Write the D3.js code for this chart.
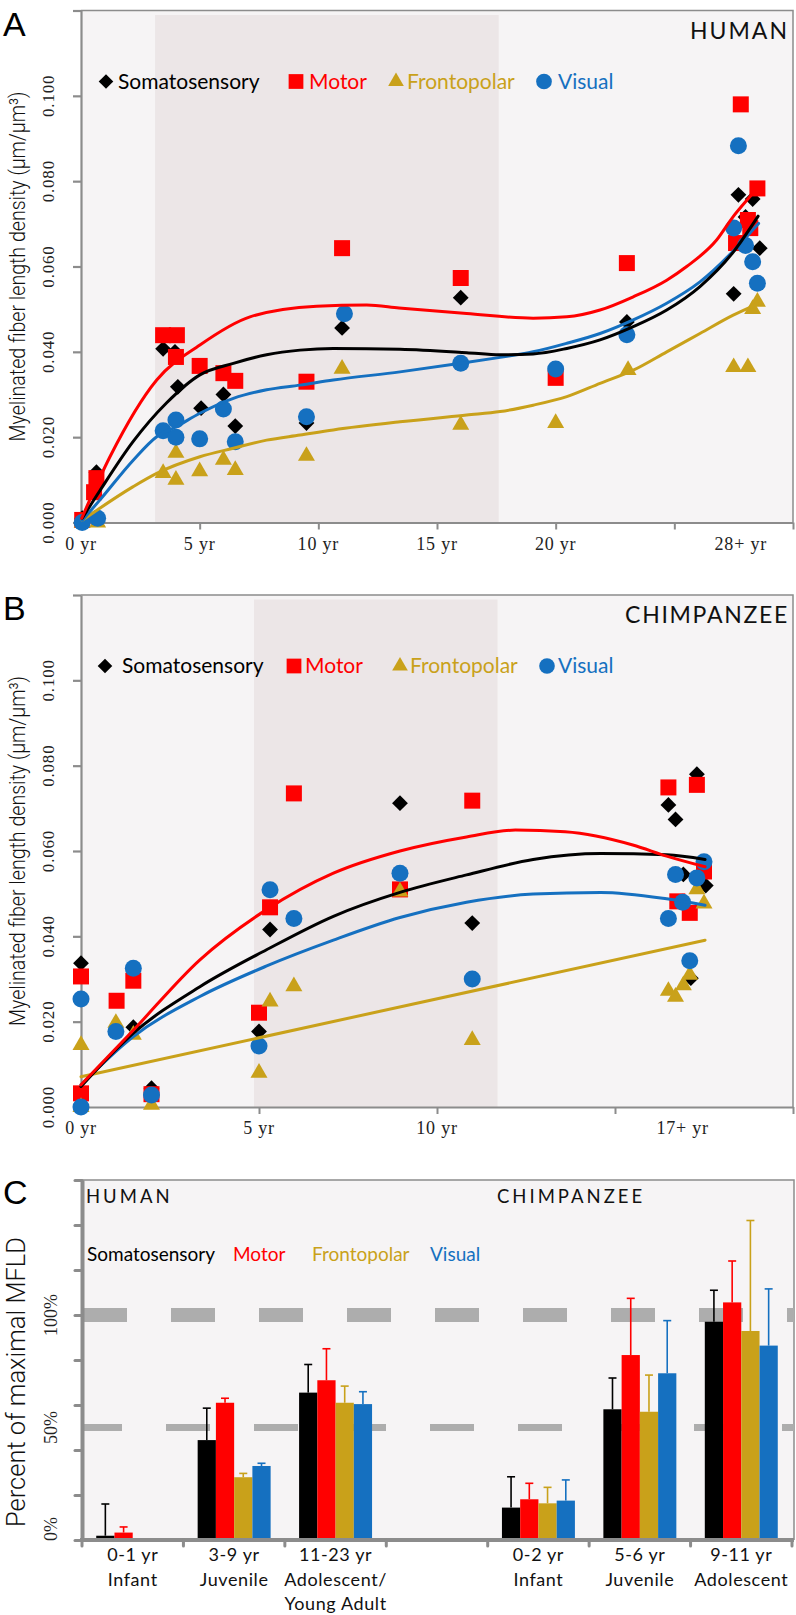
<!DOCTYPE html>
<html><head><meta charset="utf-8">
<script src="https://cdn.jsdelivr.net/npm/d3@7"></script>
<style>body{margin:0;background:#fff}svg{display:block}</style>
</head><body><svg id="c" width="796" height="1615"></svg>
<script>
// ---------------- DATA ----------------
const regions = ["Somatosensory","Motor","Frontopolar","Visual"];

// Panel A (human): [age in years, myelinated fiber length density]
const humanSoma = [[0.05,0.001],[0.65,0.0118],[3.46,0.0407],[3.96,0.040],[4.08,0.0318],[5.06,0.0268],[6.0,0.030],[6.5,0.0226],[9.5,0.0233],[11.0,0.0456],[16.0,0.0527],[23.0,0.047],[27.5,0.0536],[27.7,0.0768],[28.0,0.0716],[28.3,0.0758],[28.6,0.0643]];
const humanMotor = [[0.05,0.0006],[0.55,0.0071],[0.65,0.0104],[3.46,0.0439],[4.04,0.0439],[4.0,0.0388],[5.0,0.0367],[6.0,0.035],[6.5,0.0332],[9.5,0.033],[11.0,0.0643],[16.0,0.0573],[20.0,0.0339],[23.0,0.0608],[27.8,0.098],[28.5,0.0783],[28.1,0.0709],[28.2,0.069],[27.6,0.0655]];
const humanFront = [[0.05,0.0],[0.7,0.0],[3.46,0.0116],[4.0,0.0163],[4.0,0.010],[5.0,0.012],[6.0,0.0147],[6.5,0.0123],[9.5,0.0156],[11.0,0.036],[16.0,0.0229],[20.0,0.0233],[23.05,0.0357],[27.5,0.0364],[28.1,0.0364],[28.3,0.050],[28.5,0.0517]];
const humanVisual = [[0.05,0.0],[0.7,0.001],[3.46,0.0215],[4.0,0.024],[4.0,0.020],[5.0,0.0196],[6.0,0.0266],[6.5,0.0189],[9.5,0.0248],[11.1,0.0489],[16.0,0.0373],[20.0,0.036],[23.0,0.044],[27.7,0.0883],[27.5,0.069],[28.0,0.0649],[28.3,0.0611],[28.5,0.0561]];
// fitted trend lines
const humanSomaFit = [[0.05,0.001],[0.8,0.0075],[2.2,0.019],[3.6,0.028],[5.01,0.0346],[6.42,0.0373],[7.82,0.0393],[9.23,0.0404],[10.63,0.0408],[13.44,0.0406],[16.25,0.0398],[17.66,0.0393],[19.05,0.0395],[20.47,0.0408],[21.87,0.0428],[23.27,0.0459],[24.68,0.0498],[26.08,0.0553],[27.5,0.0635],[28.53,0.0718]];
const humanMotorFit = [[0.03,0.001],[1.22,0.0154],[3.19,0.0334],[5.01,0.0416],[7.12,0.0482],[9.93,0.0507],[12.04,0.051],[13.4,0.0503],[16.25,0.049],[19.05,0.0479],[20.47,0.0482],[21.87,0.0498],[23.27,0.0529],[24.68,0.0568],[25.52,0.060],[26.78,0.0662],[27.48,0.0717],[28.19,0.0764],[28.53,0.0786]];
const humanFrontFit = [[0.05,0.0005],[2.2,0.0084],[3.19,0.0115],[5.01,0.0154],[6.42,0.0174],[7.82,0.0193],[9.23,0.0205],[10.63,0.0217],[13.44,0.0236],[16.25,0.0252],[17.66,0.026],[19.05,0.0275],[20.47,0.0295],[21.87,0.0326],[23.27,0.0357],[24.68,0.040],[26.08,0.0443],[27.48,0.0486],[28.5,0.0512]];
const humanVisualFit = [[0.05,0.0005],[0.8,0.0053],[2.2,0.0146],[3.19,0.0201],[4.03,0.0225],[5.01,0.0256],[6.42,0.0291],[7.82,0.0311],[9.23,0.0322],[10.63,0.0334],[13.44,0.0353],[16.0,0.0373],[17.66,0.0387],[19.05,0.040],[20.47,0.042],[21.87,0.0443],[23.27,0.0475],[24.68,0.0514],[26.08,0.0564],[28.55,0.0701]];

// Panel B (chimpanzee)
const chimpSoma = [[0,0.0337],[0,0.002],[1.47,0.0187],[1.98,0.0044],[5.0,0.0177],[5.31,0.0416],[8.96,0.0712],[10.99,0.0431],[17.3,0.078],[16.5,0.0708],[16.7,0.0674],[16.92,0.0545],[17.55,0.0519],[17.13,0.0302]];
const chimpMotor = [[0,0.0306],[0,0.0032],[1.0,0.0249],[1.47,0.0296],[1.98,0.003],[5.0,0.0221],[5.31,0.0468],[5.98,0.0735],[8.96,0.051],[10.99,0.0718],[16.5,0.0749],[17.3,0.0755],[17.5,0.0552],[16.75,0.0482],[17.1,0.0455]];
const chimpFront = [[0,0.0145],[0,0.0],[0.98,0.0197],[1.47,0.0169],[1.98,0.0005],[5.0,0.008],[5.31,0.0247],[5.98,0.0283],[8.96,0.0505],[10.99,0.0157],[17.3,0.051],[17.5,0.0477],[17.1,0.031],[16.92,0.0285],[16.5,0.0272],[16.7,0.0258]];
const chimpVisual = [[0,0.0253],[0,0.0],[0.98,0.0177],[1.47,0.0325],[1.98,0.0028],[5.0,0.0143],[5.31,0.0509],[5.98,0.0442],[8.96,0.0548],[10.99,0.030],[16.7,0.0545],[17.3,0.0537],[17.5,0.0575],[16.9,0.048],[16.5,0.0442],[17.1,0.0343]];
const chimpSomaFit = [[0,0.0048],[1.47,0.0173],[3.34,0.0282],[5.2,0.0368],[7.09,0.0447],[8.96,0.0503],[10.83,0.0544],[12.7,0.058],[14.6,0.0594],[16.45,0.0591],[17.53,0.058]];
const chimpMotorFit = [[0,0.0052],[1.47,0.018],[3.34,0.0345],[5.2,0.0462],[7.09,0.0548],[8.96,0.060],[10.83,0.0633],[12.2,0.0649],[13.6,0.0645],[15.5,0.0614],[16.45,0.0588],[17.53,0.0563]];
const chimpFrontFit = [[0,0.0071],[17.53,0.0391]];
const chimpVisualFit = [[0,0.0052],[1.47,0.0165],[3.34,0.0259],[5.2,0.033],[7.09,0.0391],[8.96,0.0444],[10.83,0.048],[12.7,0.0499],[14.6,0.0503],[16.45,0.0488],[17.53,0.0473]];

const yTickVals = [0,0.02,0.04,0.06,0.08,0.10,0.12];
const yTickLabels = ["0.000","0.020","0.040","0.060","0.080","0.100"];
const humanXTicks = [0,5,10,15,20,25,30];
const humanXLabels = ["0 yr","5 yr","10 yr","15 yr","20 yr","28+ yr"];
const humanXLabelAt = [0,5,10,15,20,27.8];
const chimpXTicks = [0,5,10,15,20];
const chimpXLabels = ["0 yr","5 yr","10 yr","17+ yr"];
const chimpXLabelAt = [0,5,10,16.9];
const humanJuvBand = [3.12,17.6];
const chimpJuvBand = [4.86,11.7];

// Panel C: percent of maximal MFLD (bar value, top of error bar)
const cAgeLabels = ["0-1 yr","3-9 yr","11-23 yr","","0-2 yr","5-6 yr","9-11 yr"];
const cStageLabels = [["Infant"],["Juvenile"],["Adolescent/","Young Adult"],[],["Infant"],["Juvenile"],["Adolescent"]];
const pctSoma   = [1.9, 44.4, 65.5, null, 14.4, 58.1, 97.0];
const pctMotor  = [3.3, 61.0, 71.0, null, 18.1, 82.2, 105.6];
const pctFront  = [0,   27.9, 61.0, null, 16.3, 57.0, 92.9];
const pctVisual = [0,   32.9, 60.4, null, 17.5, 74.1, 86.4];
const errSoma   = [16.0, 58.6, 78.0, null, 28.1, 72.0, 111.0];
const errMotor  = [5.8,  63.0, 85.0, null, 25.2, 107.4, 124.0];
const errFront  = [null, 29.6, 68.4, null, 23.4, 73.3, 142.0];
const errVisual = [null, 34.1, 65.9, null, 26.7, 97.5, 111.6];
const cTickVals = [0,20,40,60,80,100,120,140,160];
const cLabelVals = [0,50,100];
const cRefLines = [100,50];

// ---------------- STYLE ----------------
const COL = {Somatosensory:"#000000", Motor:"#ff0000", Frontopolar:"#c9a11a", Visual:"#1570c0"};
const AX = "#8c8c8c", PLOT_BG = "#f6f4f5", BAND_BG = "#ece6e7";
const SERIF = '"Liberation Serif","DejaVu Serif",serif';
const SANS = 'Lato,"Open Sans",sans-serif';
const HELV = 'Roboto,"Liberation Sans",Arial,sans-serif';
const svg = d3.select("#c");

const symType = {Somatosensory:d3.symbolSquare, Motor:d3.symbolSquare, Frontopolar:d3.symbolTriangle, Visual:d3.symbolCircle};
const symSize = {Somatosensory:125, Motor:256, Frontopolar:125, Visual:227};
const symRot = {Somatosensory:45, Motor:0, Frontopolar:0, Visual:0};

function scatterPanel(o){
  const g = svg.append("g");
  const x = d3.scaleLinear().domain([0,o.xMax]).range([81,793]);
  const y = d3.scaleLinear().domain([0,0.12]).range([o.bottom,o.top]);
  g.append("rect").attr("x",x(0)).attr("y",y(0.12)).attr("width",x(o.xMax)-x(0)).attr("height",y(0)-y(0.12)).attr("fill",PLOT_BG);
  g.append("rect").attr("x",x(o.band[0])).attr("y",y(0.12)+4.5).attr("width",x(o.band[1])-x(o.band[0])).attr("height",y(0)-y(0.12)-4.5).attr("fill",BAND_BG);
  g.append("path").attr("d",`M${x(0)},${y(0.12)}H${x(o.xMax)}V${y(0)}`).attr("fill","none").attr("stroke",AX).attr("stroke-width",1.5);
  const ya = g.append("g").attr("transform",`translate(${x(0)},0)`)
    .call(d3.axisLeft(y).tickValues(yTickVals).tickSize(8).tickSizeOuter(0).tickFormat(""));
  ya.selectAll("path,line").attr("stroke",AX).attr("stroke-width",2.2);
  const xa = g.append("g").attr("transform",`translate(0,${y(0)})`)
    .call(d3.axisBottom(x).tickValues(o.xTicks).tickSize(7).tickSizeOuter(0).tickFormat(""));
  xa.selectAll("path,line").attr("stroke",AX).attr("stroke-width",2);
  g.selectAll(".yl").data(yTickLabels).join("text")
    .attr("transform",(d,i)=>`translate(54,${y(yTickVals[i])}) rotate(-90)`)
    .attr("text-anchor","middle").attr("font-family",SERIF).attr("font-size",17).attr("letter-spacing",0.8)
    .attr("fill","#222").text(d=>d);
  g.selectAll(".xl").data(o.xLabels).join("text")
    .attr("x",(d,i)=>x(o.xLabelAt[i])).attr("y",y(0)+27)
    .attr("text-anchor","middle").attr("font-family",SERIF).attr("font-size",18).attr("letter-spacing",0.8)
    .attr("fill","#222").text(d=>d);
  // axis title
  g.append("text").attr("transform",`translate(25,${(y(0)+y(0.12))/2}) rotate(-90)`)
    .attr("text-anchor","middle").attr("font-family",HELV).attr("font-size",22).attr("font-weight",300)
    .attr("textLength",350).attr("lengthAdjust","spacingAndGlyphs").attr("fill","#111")
    .text("Myelinated fiber length density (\u03bcm/\u03bcm\u00b3)");
  // points
  regions.forEach((r,ri)=>{
    g.append("g").selectAll("path").data(o.points[ri]).join("path")
      .attr("d",d3.symbol().type(symType[r]).size(symSize[r]))
      .attr("transform",d=>`translate(${x(d[0])},${y(d[1])}) rotate(${symRot[r]})`)
      .attr("fill",COL[r]);
  });
  // trend lines
  const line = d3.line().x(d=>x(d[0])).y(d=>y(d[1])).curve(d3.curveMonotoneX);
  [2,3,0,1].forEach(ri=>{
    g.append("path").attr("d",line(o.fits[ri])).attr("fill","none")
      .attr("stroke",COL[regions[ri]]).attr("stroke-width",3).attr("stroke-linecap","round");
  });
  // legend
  const ly = y(0.12)+71;
  regions.forEach((r,ri)=>{
    const [sx,tx] = o.legend[ri];
    g.append("path").attr("d",d3.symbol().type(symType[r]).size(symSize[r]*0.85))
      .attr("transform",`translate(${sx},${ly}) rotate(${symRot[r]})`).attr("fill",COL[r]);
    g.append("text").attr("x",tx).attr("y",ly+7).attr("font-family",SANS).attr("font-size",21)
      .attr("fill",COL[r]).text(r);
  });
  g.append("text").attr("x",789).attr("y",y(0.12)+28).attr("text-anchor","end")
    .attr("font-family",SANS).attr("font-size",23).attr("letter-spacing",o.titleSpacing).attr("fill","#111").text(o.title);
  g.append("text").attr("x",3).attr("y",y(0.12)+25).attr("font-family",'"Liberation Sans",Arial,sans-serif').attr("font-size",34).attr("fill","#000").text(o.letter);
}

scatterPanel({xMax:30, top:10.5, bottom:522.5, band:humanJuvBand, xTicks:humanXTicks, xLabels:humanXLabels, xLabelAt:humanXLabelAt,
  points:[humanSoma,humanMotor,humanFront,humanVisual], fits:[humanSomaFit,humanMotorFit,humanFrontFit,humanVisualFit],
  legend:[[106,118],[296,309],[396,407],[544,558]], title:"HUMAN", titleSpacing:2, letter:"A"});
scatterPanel({xMax:20, top:595, bottom:1107, band:chimpJuvBand, xTicks:chimpXTicks, xLabels:chimpXLabels, xLabelAt:chimpXLabelAt,
  points:[chimpSoma,chimpMotor,chimpFront,chimpVisual], fits:[chimpSomaFit,chimpMotorFit,chimpFrontFit,chimpVisualFit],
  legend:[[105,122],[294,305],[400,410],[547,558]], title:"CHIMPANZEE", titleSpacing:1.7, letter:"B"});

// ---------------- Panel C ----------------
(function(){
  const g = svg.append("g");
  const x0 = d3.scaleBand().domain(d3.range(cAgeLabels.length)).range([82,792]);
  const x1 = d3.scaleBand().domain(regions).range([0,x0.bandwidth()]).paddingInner(0).paddingOuter(0.78);
  const y = d3.scaleLinear().domain([0,160]).range([1540,1180]);
  g.append("rect").attr("x",82).attr("y",y(160)).attr("width",712).attr("height",y(0)-y(160)).attr("fill",PLOT_BG);
  g.append("path").attr("d",`M82,${y(160)}H794V${y(0)}`).attr("fill","none").attr("stroke",AX).attr("stroke-width",1.5);
  // dashed reference lines
  g.selectAll(".ref").data(cRefLines).join("line")
    .attr("x1",(d,i)=>i===0?83:82).attr("x2",794).attr("y1",d=>y(d)).attr("y2",d=>y(d))
    .attr("stroke","#adadad").attr("stroke-width",(d,i)=>i===0?14:7)
    .attr("stroke-dasharray","44,44").attr("stroke-dashoffset",(d,i)=>i===0?0:4);
  const vals = [pctSoma,pctMotor,pctFront,pctVisual];
  const errs = [errSoma,errMotor,errFront,errVisual];
  regions.forEach((r,ri)=>{
    const data = cAgeLabels.map((c,ci)=>({ci,v:vals[ri][ci],e:errs[ri][ci]})).filter(d=>d.v!=null && d.v>0);
    const bx = d=>x0(d.ci)+x1(r);
    g.append("g").selectAll("rect").data(data).join("rect")
      .attr("x",bx).attr("y",d=>y(d.v)).attr("width",x1.bandwidth()).attr("height",d=>y(0)-y(d.v)).attr("fill",COL[r]);
    const eg = g.append("g").attr("stroke",COL[r]).attr("stroke-width",1.6);
    const ed = data.filter(d=>d.e!=null);
    eg.selectAll(".v").data(ed).join("line")
      .attr("x1",d=>bx(d)+x1.bandwidth()/2).attr("x2",d=>bx(d)+x1.bandwidth()/2)
      .attr("y1",d=>y(d.v)).attr("y2",d=>y(d.e));
    eg.selectAll(".h").data(ed).join("line")
      .attr("x1",d=>bx(d)+x1.bandwidth()/2-4).attr("x2",d=>bx(d)+x1.bandwidth()/2+4)
      .attr("y1",d=>y(d.e)).attr("y2",d=>y(d.e));
  });
  // axes
  const ya = g.append("g").attr("transform","translate(82,0)")
    .call(d3.axisLeft(y).tickValues(cTickVals).tickSize(7).tickSizeOuter(0).tickFormat(""));
  ya.select("path").attr("stroke",AX).attr("stroke-width",4);
  ya.selectAll("line").attr("stroke",AX).attr("stroke-width",3).attr("stroke-linecap","round");
  const bounds = x0.domain().map(i=>x0(i)).concat([x0.range()[1]]);
  g.append("line").attr("x1",80).attr("x2",794).attr("y1",y(0)).attr("y2",y(0)).attr("stroke",AX).attr("stroke-width",4);
  g.selectAll(".xt").data(bounds).join("line").attr("x1",d=>d).attr("x2",d=>d).attr("y1",y(0)).attr("y2",y(0)+6)
    .attr("stroke",AX).attr("stroke-width",3).attr("stroke-linecap","round");
  g.selectAll(".yl").data(cLabelVals).join("text")
    .attr("transform",d=>`translate(57,${d===0?y(d)-11:y(d)}) rotate(-90)`).attr("text-anchor","middle")
    .attr("font-family",SERIF).attr("font-size",18).attr("fill","#222").text(d=>d+"%");
  // category labels
  cAgeLabels.forEach((c,ci)=>{
    const lines = c ? [c].concat(cStageLabels[ci]) : [];
    g.selectAll(null).data(lines).join("text")
      .attr("x",x0(ci)+x0.bandwidth()/2).attr("y",(d,i)=>1561+i*24.5)
      .attr("text-anchor","middle").attr("font-family",SANS).attr("font-size",18).attr("letter-spacing",0.6)
      .attr("fill","#111").text(d=>d);
  });
  // species labels
  g.append("text").attr("x",86).attr("y",1203).attr("font-family",SANS).attr("font-size",18.5).attr("letter-spacing",3).attr("fill","#111").text("HUMAN");
  g.append("text").attr("x",497).attr("y",1203).attr("font-family",SANS).attr("font-size",18.5).attr("letter-spacing",3).attr("fill","#111").text("CHIMPANZEE");
  // legend
  const legX = [87,233,312,430];
  regions.forEach((r,ri)=>{
    g.append("text").attr("x",legX[ri]).attr("y",1261).attr("font-family",SANS).attr("font-size",19)
      .attr("fill",COL[r]).text(r);
  });
  // axis title
  g.append("text").attr("transform","translate(25,1382) rotate(-90)").attr("text-anchor","middle")
    .attr("font-family",HELV).attr("font-size",25).attr("font-weight",300).attr("textLength",290)
    .attr("lengthAdjust","spacingAndGlyphs").attr("fill","#111").text("Percent of maximal MFLD");
  g.append("text").attr("x",3).attr("y",1204).attr("font-family",'"Liberation Sans",Arial,sans-serif').attr("font-size",34).attr("fill","#000").text("C");
})();
</script></body></html>
